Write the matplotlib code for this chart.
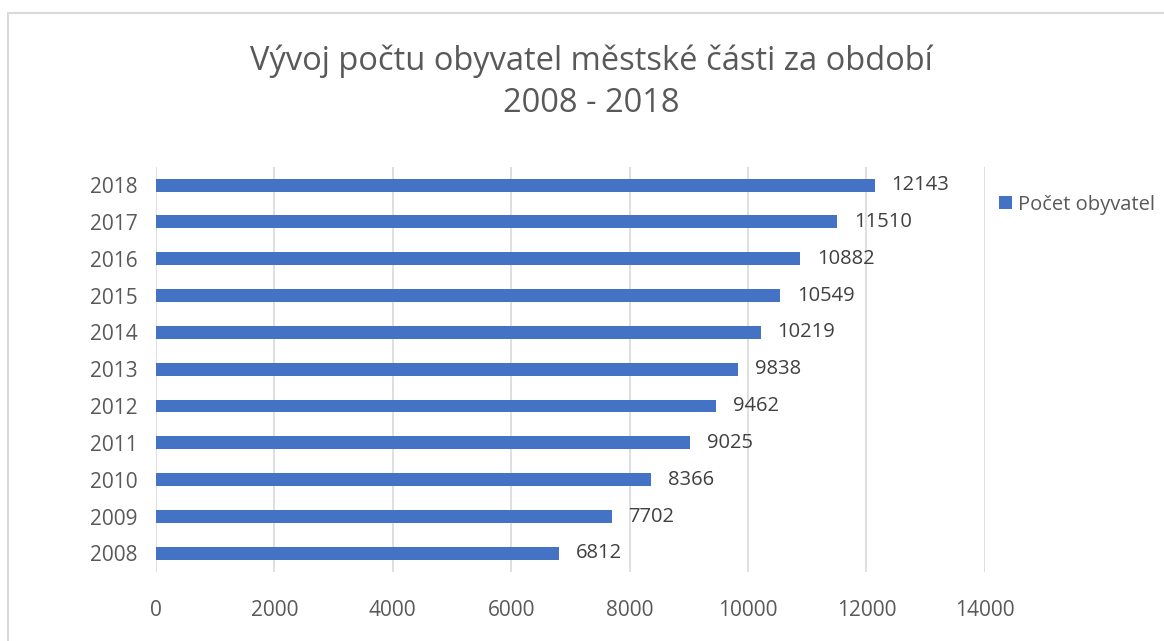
import matplotlib.pyplot as plt
from matplotlib.patches import Rectangle

years = ['2008', '2009', '2010', '2011', '2012', '2013', '2014', '2015', '2016', '2017', '2018']
population = [6812, 7702, 8366, 9025, 9462, 9838, 10219, 10549, 10882, 11510, 12143]
x_ticks = [0, 2000, 4000, 6000, 8000, 10000, 12000, 14000]

plt.rcParams['font.family'] = ['Open Sans', 'DejaVu Sans']

fig = plt.figure(figsize=(11.64, 6.41), dpi=100)
ax = fig.add_axes([0.134, 0.108, 0.712, 0.632])

bar_color = '#4472c4'
ax.barh(years, population, height=0.35, color=bar_color, zorder=3, label='Počet obyvatel')
for i, v in enumerate(population):
    ax.annotate(str(v), (v, i), xytext=(12, 0), textcoords='offset points',
                va='center', ha='left', fontsize=14.5, color='#404040')

ax.set_xlim(0, 14000)
ax.set_ylim(-0.5, len(years) - 0.5)
ax.set_xticks(x_ticks)
ax.grid(axis='x', color='#d9d9d9', linewidth=1.2, zorder=0)
for s in ['top', 'right', 'bottom', 'left']:
    ax.spines[s].set_visible(False)
ax.tick_params(axis='both', length=0, labelsize=15, labelcolor='#595959')
ax.tick_params(axis='x', pad=20)
ax.tick_params(axis='y', pad=13)

fig.text(0.508, 0.904, 'Vývoj počtu obyvatel městské části za období',
         ha='center', va='center', fontsize=23.5, color='#595959')
fig.text(0.508, 0.838, '2008 - 2018', ha='center', va='center', fontsize=23.5, color='#595959')

leg = ax.legend(loc='upper left', bbox_to_anchor=(1.008, 0.95), frameon=False,
                fontsize=14.5, handlelength=0.6, handleheight=0.6, handletextpad=0.3,
                borderaxespad=0)
for t in leg.get_texts():
    t.set_color('#595959')

fig.patches.append(Rectangle((0.007, -0.05), 1.1, 1.03, transform=fig.transFigure,
                             fill=False, edgecolor='#d9d9d9', linewidth=1.5))

fig.savefig('out.png', dpi=100)
